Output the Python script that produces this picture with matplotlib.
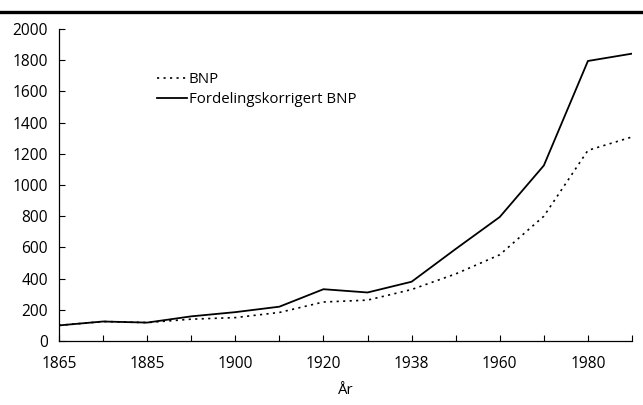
import numpy as np
import matplotlib.pyplot as plt
from matplotlib.lines import Line2D

plt.rcParams['font.family'] = ['Open Sans', 'DejaVu Sans']

years = [1865, 1875, 1885, 1890, 1900, 1910, 1920, 1930, 1938, 1950, 1960, 1970, 1980, 1990]
labelled_years = [1865, 1885, 1900, 1920, 1938, 1960, 1980]
bnp = [100, 125, 118, 140, 150, 183, 250, 262, 330, 430, 553, 800, 1222, 1308]
bnp_korr = [100, 125, 118, 158, 185, 220, 332, 311, 380, 590, 795, 1125, 1795, 1842]

fig = plt.figure(figsize=(6.43, 4.05), dpi=100)
ax = fig.add_axes([59/643, 1 - 341/405, (632 - 59)/643, (341 - 29)/405])

x = np.arange(len(years))
ax.plot(x, bnp, color='black', lw=1.2, linestyle=(0, (1.3, 2.6)), label='BNP')
ax.plot(x, bnp_korr, color='black', lw=1.3, label='Fordelingskorrigert BNP')

ax.set_xlim(0, len(years) - 1)
ax.set_ylim(0, 2000)
ax.set_yticks(range(0, 2001, 200))
ax.set_xticks(x)
ax.set_xticklabels([str(y) if y in labelled_years else '' for y in years])

for s in ['top', 'right']:
    ax.spines[s].set_visible(False)
ax.spines['left'].set_linewidth(0.9)
ax.spines['bottom'].set_linewidth(0.9)
ax.tick_params(axis='both', direction='in', length=4, width=0.8, labelsize=11.2)
ax.tick_params(axis='y', pad=8)
ax.tick_params(axis='x', pad=11)

ax.set_xlabel('År', fontsize=10.8, labelpad=8)

ax.legend(loc='upper left', bbox_to_anchor=(0.16, 0.88), frameon=False, fontsize=10.8,
          handlelength=2.0, handletextpad=0.15, labelspacing=0.3, borderaxespad=0)

# thick rule across the top of the figure
fig.add_artist(Line2D([0, 1], [1 - 11.5/405, 1 - 11.5/405], color='black', lw=2.4,
                      transform=fig.transFigure))

fig.savefig('out.png', dpi=100)
